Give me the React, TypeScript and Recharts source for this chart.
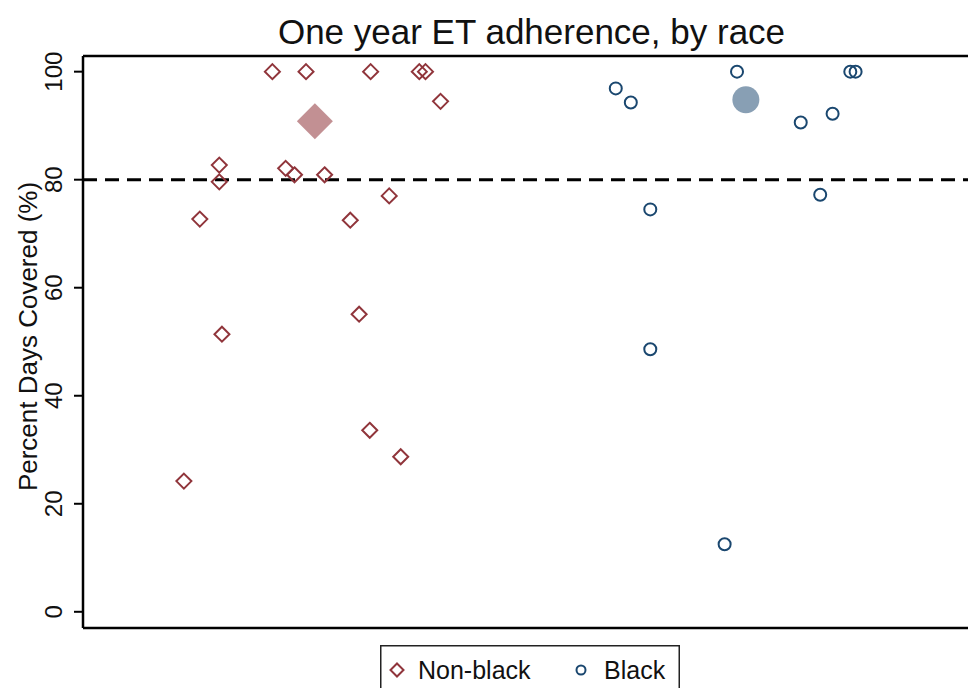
import React from "react";
import { ScatterChart, Scatter, XAxis, YAxis, ReferenceLine, Legend, Label } from "recharts";

const FONT = '"Liberation Sans", Arial, Helvetica, sans-serif';
const MAROON = "#90353b";
const NAVY = "#1a476f";

// jittered horizontal position (0-100 across the plot) and percent days covered
const nonBlackX = [11.4, 13.2, 15.4, 15.4, 15.7, 21.4, 22.9, 23.9, 25.2, 27.3, 30.2, 31.2, 32.4, 32.5, 34.6, 35.9, 38.0, 38.7, 40.4];
const nonBlackY = [24.2, 72.7, 82.7, 79.6, 51.4, 100, 82.1, 80.9, 100, 80.9, 72.5, 55.1, 33.6, 100, 77.0, 28.7, 100, 100, 94.5];
const blackX = [60.2, 61.9, 64.1, 64.1, 72.5, 73.9, 81.1, 83.3, 84.7, 86.7, 87.3];
const blackY = [96.9, 94.3, 74.5, 48.6, 12.5, 100, 90.6, 77.2, 92.2, 100, 100];
const nonBlackSummary = [{ x: 26.2, y: 90.8 }];
const blackSummary = [{ x: 74.9, y: 94.8 }];
const yTicks = [0, 20, 40, 60, 80, 100];
const threshold = 80;
const seriesNames = ["Non-black", "Black"];
const title = "One year ET adherence, by race";
const yLabel = "Percent Days Covered (%)";

const nonBlack = nonBlackX.map((x, i) => ({ x, y: nonBlackY[i] }));
const black = blackX.map((x, i) => ({ x, y: blackY[i] }));

const diamondPath = (cx: number, cy: number, r: number) =>
  `M${cx},${cy - r}L${cx + r},${cy}L${cx},${cy + r}L${cx - r},${cy}Z`;

const HollowDiamond = (p: any) => (
  <path d={diamondPath(p.cx, p.cy, 7.5)} fill="none" stroke={MAROON} strokeWidth={2} />
);
const HollowCircle = (p: any) => (
  <circle cx={p.cx} cy={p.cy} r={6} fill="none" stroke={NAVY} strokeWidth={2} />
);
const BigDiamond = (p: any) => (
  <path d={diamondPath(p.cx, p.cy, 18)} fill={MAROON} fillOpacity={0.55} stroke="none" />
);
const BigCircle = (p: any) => (
  <circle cx={p.cx} cy={p.cy} r={13.5} fill={NAVY} fillOpacity={0.52} stroke="none" />
);

const YTick = (p: any) => (
  <text
    x={p.x - 10}
    y={p.y}
    transform={`rotate(-90, ${p.x - 10}, ${p.y})`}
    textAnchor="middle"
    fontSize={24}
    fontFamily={FONT}
    fill="#111"
  >
    {p.payload.value}
  </text>
);

const YLabel = (p: any) => {
  const vb = p.viewBox || { x: 0, y: 56, width: 83, height: 572 };
  const cx = 37;
  const cy = vb.y + vb.height / 2 - 5.5;
  return (
    <text
      x={cx}
      y={cy}
      transform={`rotate(-90, ${cx}, ${cy})`}
      textAnchor="middle"
      fontSize={26}
      fontFamily={FONT}
      fill="#111"
    >
      {yLabel}
    </text>
  );
};

const LegendBox = () => (
  <svg width={300} height={50} style={{ display: "block", overflow: "visible" }}>
    <rect x={0.75} y={0.75} width={298.5} height={60} fill="#fff" stroke="#222" strokeWidth={1.5} />
    <path d={diamondPath(17, 25, 6.5)} fill="none" stroke={MAROON} strokeWidth={2} />
    <text x={38} y={34} fontSize={25} fontFamily={FONT} fill="#111">
      {seriesNames[0]}
    </text>
    <circle cx={201} cy={25} r={4.5} fill="none" stroke={NAVY} strokeWidth={2} />
    <text x={224} y={34} fontSize={25} fontFamily={FONT} fill="#111">
      {seriesNames[1]}
    </text>
  </svg>
);

export default function App() {
  return (
    <div style={{ position: "absolute", left: 0, top: 0, width: 968, height: 688, overflow: "hidden", background: "#fff" }}>
      <div
        style={{
          position: "absolute",
          left: 0,
          width: 1063,
          top: 14.4,
          textAlign: "center",
          fontFamily: FONT,
          fontSize: 35,
          lineHeight: "35px",
          color: "#111",
          whiteSpace: "nowrap",
        }}
      >
        {title}
      </div>
      <ScatterChart width={968} height={688} margin={{ top: 55, right: 0, bottom: 59, left: 0 }}>
        <XAxis
          type="number"
          dataKey="x"
          domain={[0, 100]}
          allowDataOverflow
          tick={false}
          tickLine={false}
          height={1}
          axisLine={{ stroke: "#000", strokeWidth: 2.5 }}
        />
        <XAxis
          xAxisId="top"
          orientation="top"
          type="number"
          dataKey="x"
          domain={[0, 100]}
          allowDataOverflow
          tick={false}
          tickLine={false}
          height={1}
          axisLine={{ stroke: "#000", strokeWidth: 2.5 }}
        />
        <YAxis
          type="number"
          dataKey="y"
          width={83}
          domain={[-3, 102.9]}
          allowDataOverflow
          ticks={yTicks}
          tick={<YTick />}
          tickSize={9}
          tickLine={{ stroke: "#000", strokeWidth: 2 }}
          axisLine={{ stroke: "#000", strokeWidth: 2.5 }}
        >
          <Label content={<YLabel />} />
        </YAxis>
        <ReferenceLine y={threshold} stroke="#000" strokeWidth={3} strokeDasharray="14 8" />
        <Scatter name={seriesNames[0]} data={nonBlack} shape={<HollowDiamond />} isAnimationActive={false} />
        <Scatter name={seriesNames[1]} data={black} shape={<HollowCircle />} isAnimationActive={false} />
        <Scatter data={nonBlackSummary} shape={<BigDiamond />} isAnimationActive={false} legendType="none" />
        <Scatter data={blackSummary} shape={<BigCircle />} isAnimationActive={false} legendType="none" />
        <Legend
          verticalAlign="middle"
          align="center"
          content={<LegendBox />}
          wrapperStyle={{ left: 380, top: 645, width: 300, height: 50 }}
        />
      </ScatterChart>
    </div>
  );
}
